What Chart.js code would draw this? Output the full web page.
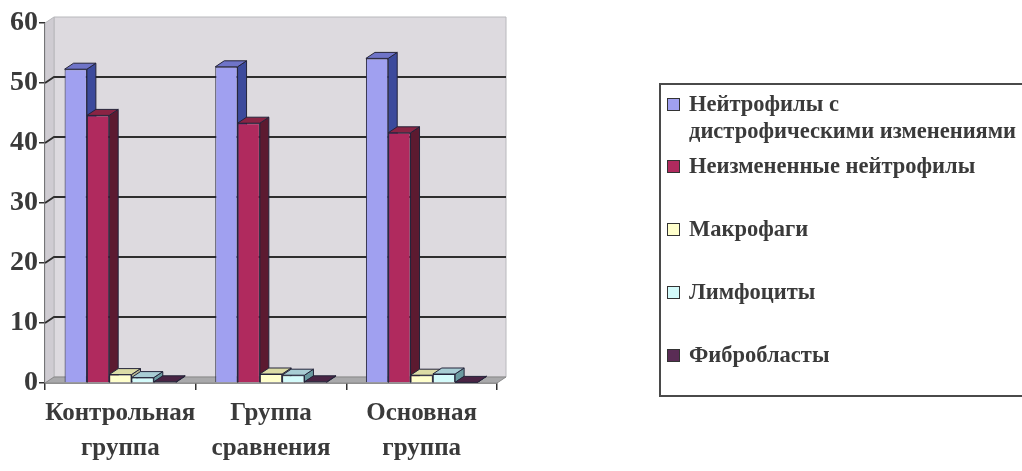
<!DOCTYPE html>
<html lang="ru">
<head>
  <meta charset="UTF-8" />
  <title>Клеточный состав</title>
  <script src="https://cdn.jsdelivr.net/npm/chart.js"></script>
  <style>
    body {
      margin: 0;
      background: #ffffff;
      font-family: "Liberation Serif", "Times New Roman", serif;
    }
    #wrap {
      position: relative;
      width: 1022px;
      height: 471px;
      overflow: hidden;
    }
    #chartBox {
      position: absolute;
      left: 0;
      top: 0;
      width: 1022px;
      height: 471px;
    }
    #legend {
      position: absolute;
      left: 659px;
      top: 83px;
      width: 420px;
      height: 314px;
      border: 2px solid #4a4a4a;
      padding: 5px 0 0 6px;
      box-sizing: border-box;
      color: #3a3a3a;
      font-weight: bold;
      font-size: 22.5px;
    }
    .item {
      display: flex;
      align-items: flex-start;
      line-height: 27px;
      margin-top: 36px;
    }
    .item:first-child { margin-top: 0; }
    .item:nth-child(2) { margin-top: 8px; }
    .swatch {
      width: 11px;
      height: 11px;
      border: 1.5px solid #333;
      margin: 8px 9px 0 0;
      flex: none;
    }
    .label { white-space: pre-line; }
  </style>
</head>
<body>
  <div id="wrap">
    <div id="chartBox"><canvas id="cells"></canvas></div>
    <div id="legend"></div>
  </div>

  <script>
    // data
    const categories = [['Контрольная', 'группа'], ['Группа', 'сравнения'], ['Основная', 'группа']];
    const seriesNames = [
      'Нейтрофилы с\nдистрофическими изменениями',
      'Неизмененные нейтрофилы',
      'Макрофаги',
      'Лимфоциты',
      'Фибробласты'
    ];
    const neutroDystrophic = [52.3, 52.7, 54.1];
    const neutroIntact = [44.6, 43.3, 41.7];
    const macrophages = [1.4, 1.5, 1.3];
    const lymphocytes = [0.9, 1.3, 1.5];
    const fibroblasts = [0.2, 0.2, 0.1];
    const yMin = 0, yMax = 60, yStep = 10;

    // colours (front / side / top of the 3d bars)
    const frontColors = ['#a0a0f0', '#b02a5e', '#ffffcc', '#d4fbfb', '#5a2c55'];
    const sideColors = ['#3c4a9c', '#5c1a30', '#b8b890', '#6a9aa0', '#38182f'];
    const topColors = ['#6f74c8', '#8a2444', '#dcdca6', '#a8cdd4', '#4a2444'];
    const DX = 9, DY = 6;

    const allValues = [neutroDystrophic, neutroIntact, macrophages, lymphocytes, fibroblasts];

    // html legend
    const legendEl = document.getElementById('legend');
    seriesNames.forEach((name, i) => {
      const row = document.createElement('div');
      row.className = 'item';
      const sw = document.createElement('span');
      sw.className = 'swatch';
      sw.style.background = frontColors[i];
      const tx = document.createElement('span');
      tx.className = 'label';
      tx.textContent = name;
      row.appendChild(sw);
      row.appendChild(tx);
      legendEl.appendChild(row);
    });

    function poly(ctx, pts, fill) {
      ctx.beginPath();
      ctx.moveTo(pts[0][0], pts[0][1]);
      for (let k = 1; k < pts.length; k++) ctx.lineTo(pts[k][0], pts[k][1]);
      ctx.closePath();
      ctx.fillStyle = fill;
      ctx.fill();
      ctx.stroke();
    }

    // walls, floor, grid on the back wall and depth faces of the bars
    const depth3d = {
      id: 'depth3d',
      beforeDatasetsDraw(chart) {
        const { ctx, chartArea: a, scales: { y } } = chart;
        ctx.save();
        ctx.lineWidth = 1;
        ctx.strokeStyle = '#b8b8bc';
        poly(ctx, [[a.left + DX, a.top - DY], [a.right + DX, a.top - DY], [a.right + DX, a.bottom - DY], [a.left + DX, a.bottom - DY]], '#dddadf');
        poly(ctx, [[a.left, a.top], [a.left + DX, a.top - DY], [a.left + DX, a.bottom - DY], [a.left, a.bottom]], '#cfccd2');
        ctx.strokeStyle = '#8a8a8a';
        poly(ctx, [[a.left, a.bottom], [a.left + DX, a.bottom - DY], [a.right + DX, a.bottom - DY], [a.right, a.bottom]], '#a9a9ab');

        ctx.strokeStyle = '#2e2e2e';
        ctx.lineWidth = 1.8;
        y.ticks.forEach(t => {
          if (t.value <= yMin || t.value >= yMax) return;
          const py = y.getPixelForValue(t.value);
          ctx.beginPath();
          ctx.moveTo(a.left, py);
          ctx.lineTo(a.left + DX, py - DY);
          ctx.lineTo(a.right + DX, py - DY);
          ctx.stroke();
        });

        ctx.lineWidth = 1;
        ctx.strokeStyle = '#24243a';
        chart.data.datasets.forEach((ds, i) => {
          chart.getDatasetMeta(i).data.forEach(bar => {
            const l = bar.x - bar.width / 2, r = bar.x + bar.width / 2;
            const t = bar.y, b = bar.base;
            poly(ctx, [[r, t], [r + DX, t - DY], [r + DX, b - DY], [r, b]], sideColors[i]);
            poly(ctx, [[l, t], [l + DX, t - DY], [r + DX, t - DY], [r, t]], topColors[i]);
          });
        });
        ctx.restore();
      }
    };

    const tickFont = { family: '"Liberation Serif", serif', weight: 'bold' };

    new Chart(document.getElementById('cells'), {
      type: 'bar',
      data: {
        labels: categories,
        datasets: seriesNames.map((name, i) => ({
          label: name,
          data: allValues[i],
          backgroundColor: frontColors[i],
          borderColor: '#24243a',
          borderWidth: 1
        }))
      },
      options: {
        responsive: true,
        maintainAspectRatio: false,
        animation: false,
        layout: { padding: { left: 0, top: 23, right: 525, bottom: 0 } },
        datasets: { bar: { categoryPercentage: 0.74, barPercentage: 1 } },
        scales: {
          x: {
            grid: { drawOnChartArea: false, offset: true, tickLength: 7, color: '#333', lineWidth: 1.5 },
            border: { color: '#333', width: 1.5 },
            ticks: { font: { ...tickFont, size: 25, lineHeight: 1.4 }, color: '#3a3a3a', padding: 6, maxRotation: 0, autoSkip: false },
            afterFit(s) { s.height = 88; }
          },
          y: {
            min: yMin,
            max: yMax,
            grid: { drawOnChartArea: false, tickLength: 6, color: '#333', lineWidth: 1.5 },
            border: { color: '#333', width: 1.5 },
            ticks: { stepSize: yStep, font: { ...tickFont, size: 28 }, color: '#3a3a3a', padding: 1 },
            afterFit(s) { s.width = 45; }
          }
        },
        plugins: {
          legend: { display: false },
          tooltip: { enabled: false }
        }
      },
      plugins: [depth3d]
    });
  </script>
</body>
</html>
